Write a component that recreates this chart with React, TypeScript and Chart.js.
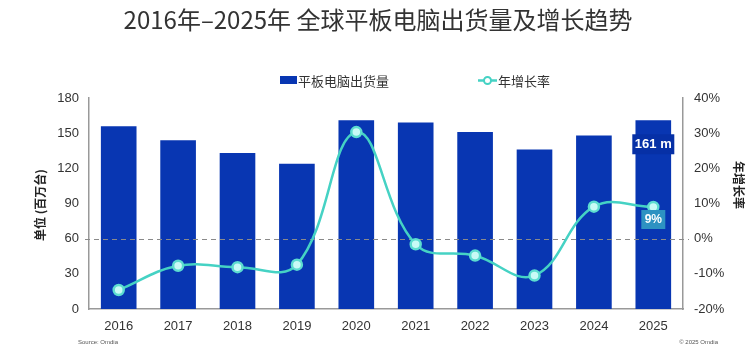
import React, { useEffect, useRef } from "react";
import { Chart, registerables } from "chart.js";

Chart.register(...registerables);

const years = ["2016", "2017", "2018", "2019", "2020", "2021", "2022", "2023", "2024", "2025"];
const shipments = [156, 144, 133, 124, 161, 159, 151, 136, 148, 161];
const growth = [-14.6, -7.7, -8.1, -7.4, 30.3, -1.6, -4.8, -10.5, 9.1, 9];
const leftTicks = [0, 30, 60, 90, 120, 150, 180];
const rightTicks = [-20, -10, 0, 10, 20, 30, 40];

const titleText = "2016年–2025年 全球平板电脑出货量及增长趋势";
const barLabel = "平板电脑出货量";
const lineLabel = "年增长率";
const leftTitle = "单位 (百万台)";
const rightTitle = "年增长率";
const lastBarLabel = "161 m";
const lastPctLabel = "9%";

const FONT = "'Noto Sans CJK SC', 'Noto Sans', sans-serif";
const NUM = "'Liberation Sans', Arial, sans-serif";
const BAR = "#0836b2";
const LINE = "#45d2c4";

const decor = {
  id: "decor",
  afterDraw(chart: any) {
    const { ctx } = chart;
    const x = chart.scales.x;
    const y1 = chart.scales.y1;
    ctx.save();
    // title
    ctx.fillStyle = "#333";
    ctx.font = `24px ${FONT}`;
    ctx.textAlign = "center";
    ctx.textBaseline = "middle";
    ctx.fillText(titleText, 378, 20);

    // legend
    ctx.font = `13px ${FONT}`;
    ctx.textAlign = "left";
    ctx.fillStyle = BAR;
    ctx.fillRect(280, 76, 17, 8);
    ctx.fillStyle = "#333";
    ctx.fillText(barLabel, 298, 81);
    ctx.strokeStyle = LINE;
    ctx.lineWidth = 2.5;
    ctx.beginPath();
    ctx.moveTo(478, 80.5);
    ctx.lineTo(497, 80.5);
    ctx.stroke();
    ctx.beginPath();
    ctx.arc(487.5, 80.5, 3.5, 0, Math.PI * 2);
    ctx.fillStyle = "#ffffff";
    ctx.fill();
    ctx.lineWidth = 2;
    ctx.stroke();
    ctx.fillStyle = "#333";
    ctx.fillText(lineLabel, 498, 81);

    // axis titles
    ctx.font = `bold 12px ${FONT}`;
    ctx.fillStyle = "#222";
    ctx.save();
    ctx.translate(40, 205);
    ctx.rotate(-Math.PI / 2);
    ctx.textAlign = "center";
    ctx.fillText(leftTitle, 0, 0);
    ctx.restore();
    ctx.save();
    ctx.translate(739, 185);
    ctx.rotate(Math.PI / 2);
    ctx.textAlign = "center";
    ctx.fillText(rightTitle, 0, 0);
    ctx.restore();

    // footer
    ctx.font = `6px ${NUM}`;
    ctx.fillStyle = "#555";
    ctx.textAlign = "left";
    ctx.fillText("Source: Omdia", 78, 342);
    ctx.textAlign = "right";
    ctx.fillText("© 2025 Omdia", 718, 342);

    // last bar label
    const last = years.length - 1;
    const bx = x.getPixelForValue(last);
    const by = chart.scales.y.getPixelForValue(shipments[last]);
    ctx.fillStyle = "#0630a6";
    ctx.fillRect(bx - 21, by + 14, 42, 20);
    ctx.fillStyle = "#ffffff";
    ctx.textAlign = "center";
    ctx.font = `bold 13px ${NUM}`;
    ctx.fillText(lastBarLabel, bx, by + 24.5);

    // last pct label
    const py = y1.getPixelForValue(growth[last]);
    ctx.fillStyle = "#2d92c2";
    ctx.fillRect(bx - 12, py + 3, 24, 19);
    ctx.fillStyle = "#ffffff";
    ctx.font = `bold 12px ${NUM}`;
    ctx.fillText(lastPctLabel, bx, py + 13);
    ctx.restore();
  },
};

const zeroLine = {
  id: "zeroLine",
  afterDatasetDraw(chart: any, args: any) {
    if (args.index !== 0) return;
    const { ctx, chartArea } = chart;
    const y0 = Math.round(chart.scales.y1.getPixelForValue(0)) + 0.5;
    ctx.save();
    ctx.strokeStyle = "#8a8a8a";
    ctx.lineWidth = 1;
    ctx.setLineDash([5, 4]);
    ctx.beginPath();
    ctx.moveTo(chartArea.left - 4, y0);
    ctx.lineTo(chartArea.right + 6, y0);
    ctx.stroke();
    ctx.restore();
  },
};

export default function App() {
  const ref = useRef<HTMLCanvasElement>(null);
  useEffect(() => {
    document.body.style.margin = "0";
    const canvas = ref.current!;
    const chart = new Chart(canvas, {
      type: "bar",
      data: {
        labels: years,
        datasets: [
          {
            type: "bar",
            label: barLabel,
            data: shipments,
            backgroundColor: BAR,
            yAxisID: "y",
            barPercentage: 0.6,
            categoryPercentage: 1,
            order: 2,
          },
          {
            type: "line",
            label: lineLabel,
            data: growth,
            yAxisID: "y1",
            borderColor: LINE,
            borderWidth: 2.5,
            tension: 0.4,
            pointRadius: 5,
            pointBackgroundColor: "#c8faf6",
            pointBorderColor: "#5cdcd0",
            pointBorderWidth: 2.5,
            order: 1,
          } as any,
        ],
      },
      options: {
        animation: false,
        responsive: false,
        maintainAspectRatio: false,
        layout: { padding: { top: 98, left: 0, right: 0, bottom: 0 } },
        plugins: {
          legend: { display: false },
          tooltip: { enabled: false },
          title: { display: false },
        },
        scales: {
          x: {
            grid: { display: false, drawTicks: false },
            border: { color: "#999", width: 1.5 },
            ticks: { color: "#333", font: { family: NUM, size: 13 }, padding: 10 },
            afterFit(s: any) {
              s.height = 43;
            },
          },
          y: {
            position: "left",
            min: 0,
            max: 180,
            afterBuildTicks(s: any) {
              s.ticks = leftTicks.map((v) => ({ value: v }));
            },
            grid: { display: false, drawTicks: false },
            border: { color: "#999", width: 1.5 },
            ticks: { color: "#333", font: { family: NUM, size: 13 }, padding: 10 },
            afterFit(s: any) {
              s.width = 89;
            },
          },
          y1: {
            position: "right",
            min: -20,
            max: 40,
            afterBuildTicks(s: any) {
              s.ticks = rightTicks.map((v) => ({ value: v }));
            },
            grid: { display: false, drawOnChartArea: false, drawTicks: true, tickLength: 6, color: "#999" },
            border: { color: "#999", width: 1.5 },
            ticks: {
              color: "#333",
              font: { family: NUM, size: 13 },
              padding: 5,
              callback: (v: any) => `${v}%`,
            },
            afterFit(s: any) {
              s.width = 73;
            },
          },
        },
      },
      plugins: [zeroLine, decor],
    });
    return () => chart.destroy();
  }, []);
  return (
    <div style={{ width: 756, height: 352, background: "#fff" }}>
      <canvas ref={ref} width={756} height={352} style={{ display: "block" }} />
    </div>
  );
}
